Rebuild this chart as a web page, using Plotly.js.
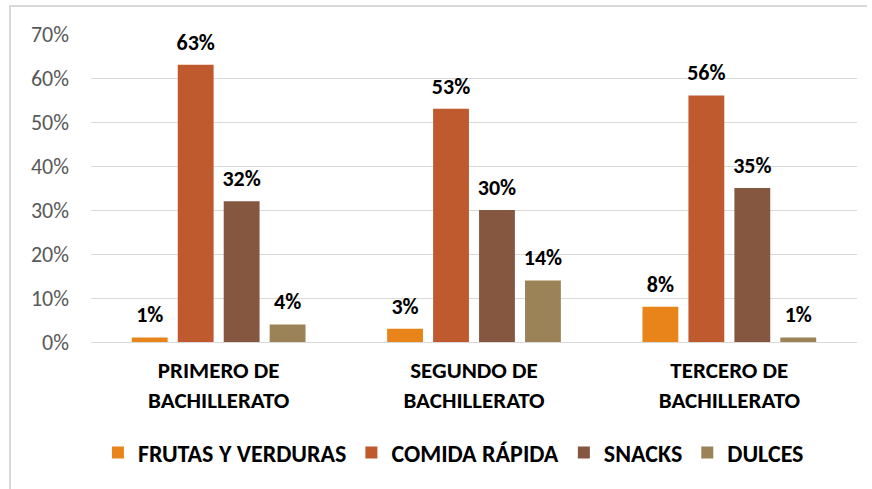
<!DOCTYPE html>
<html>
<head>
<meta charset="utf-8">
<script src="https://cdn.plot.ly/plotly-3.0.1.min.js"></script>
<style>
html,body{margin:0;padding:0;background:#fff;}
#wrap{position:relative;width:872px;height:489px;}
#chart{width:872px;height:489px;}
#frameL{position:absolute;left:9px;top:5px;width:2px;height:484px;background:#d9d9d9;pointer-events:none;}
#frameT{position:absolute;left:9px;top:5px;width:858px;height:2px;background:#d9d9d9;pointer-events:none;}
</style>
</head>
<body>
<div id="wrap">
<div id="chart"></div>
<div id="frameL"></div>
<div id="frameT"></div>
</div>
<script>
var categories = ["PRIMERO DE<br>BACHILLERATO", "SEGUNDO DE<br>BACHILLERATO", "TERCERO DE<br>BACHILLERATO"];
var seriesNames = ["FRUTAS Y VERDURAS", "COMIDA RÁPIDA", "SNACKS", "DULCES"];
var frutas = [0.01, 0.03, 0.08];
var comida = [0.63, 0.53, 0.56];
var snacks = [0.32, 0.30, 0.35];
var dulces = [0.04, 0.14, 0.01];
var colors = ["#E8841A", "#BE5A2E", "#855741", "#9C8357"];
var yTicks = [0, 0.1, 0.2, 0.3, 0.4, 0.5, 0.6, 0.7];

var FONT = "Carlito, Lato, 'Open Sans', sans-serif";
var values = [frutas, comida, snacks, dulces];
var traces = [];
values.forEach(function(v, i){
  traces.push({
    type: "bar",
    name: seriesNames[i],
    x: categories,
    y: v,
    offsetgroup: "g" + i,
    marker: {color: colors[i]},
    hoverinfo: "none"
  });
});
values.forEach(function(v, i){
  traces.push({
    type: "scatter",
    mode: "markers+text",
    showlegend: false,
    x: categories,
    y: v,
    offsetgroup: "g" + i,
    marker: {size: 14, opacity: 0, color: colors[i]},
    text: v.map(function(d){ return Math.round(d*100) + "%"; }),
    textposition: "top center",
    textfont: {family: FONT, size: 22, color: "#000000", weight: "bold"},
    cliponaxis: false,
    hoverinfo: "none"
  });
});

var layout = {
  width: 872, height: 489,
  margin: {l: 91, r: 15, t: 34, b: 147},
  paper_bgcolor: "#ffffff",
  plot_bgcolor: "#ffffff",
  barmode: "group",
  scattermode: "group",
  bargap: 0.28,
  bargroupgap: 0.22,
  scattergap: 0.28,
  font: {family: FONT},
  xaxis: {
    tickfont: {family: FONT, size: 23, color: "#000000", weight: "bold"},
    showline: true, linecolor: "#d9d9d9", linewidth: 1,
    ticks: "", showgrid: false, fixedrange: true, automargin: false,
    ticklabelstandoff: 7
  },
  yaxis: {
    range: [0, 0.7],
    tickvals: yTicks,
    tickformat: ".0%",
    tickfont: {family: FONT, size: 22, color: "#595959"},
    showgrid: true, gridcolor: "#d9d9d9", gridwidth: 1,
    zeroline: false, showline: false, ticks: "",
    ticklen: 0, ticklabelstandoff: 21, fixedrange: true, automargin: false
  },
  showlegend: true,
  legend: {
    orientation: "h",
    x: 0.52, xanchor: "center", xref: "container",
    y: 0.074, yanchor: "middle", yref: "container",
    font: {family: FONT, size: 24, color: "#000000", weight: "bold"},
    itemwidth: 30,
    traceorder: "normal"
  }
};

Plotly.newPlot("chart", traces, layout, {displayModeBar: false, staticPlot: true});
</script>
</body>
</html>
